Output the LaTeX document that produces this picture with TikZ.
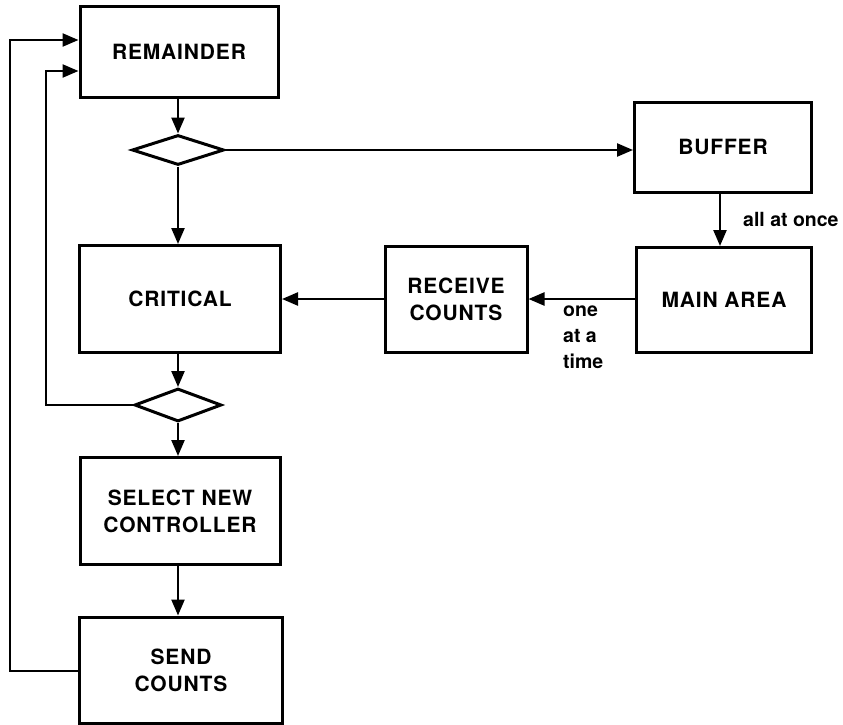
\documentclass[tikz,border=0pt]{standalone}
\usepackage{fontspec}
\setmainfont{TeX Gyre Heros}
\newfontfamily\lblfont[LetterSpace=4]{TeX Gyre Heros}
\usetikzlibrary{arrows.meta,shapes.geometric}
\begin{document}
\begin{tikzpicture}[x=1pt,y=-1pt,
  box/.style={draw,line width=3pt,rectangle,inner sep=0pt,align=center,
    font=\lblfont\bfseries\fontsize{21}{27}\selectfont},
  dia/.style={draw,line width=3pt,diamond,inner sep=0pt},
  conn/.style={line width=2.4pt,-{Triangle[length=16pt,width=13pt]}},
  lbl/.style={font=\bfseries\fontsize{19.5}{26}\selectfont,inner sep=0pt,align=left}]
\useasboundingbox (0,0) rectangle (843,725);

\node[box,minimum width=198pt,minimum height=90pt] (rem) at (179,52) {REMAINDER};
\node[dia,minimum width=92pt,minimum height=30pt] (d1) at (178,150) {};
\node[box,minimum width=177pt,minimum height=90pt] (buf) at (723,147) {BUFFER};
\node[box,minimum width=201pt,minimum height=107pt] (crit) at (180,299) {CRITICAL};
\node[box,minimum width=142pt,minimum height=106pt] (recv) at (456,299) {RECEIVE\\COUNTS};
\node[box,minimum width=175pt,minimum height=105pt] (main) at (724,300) {MAIN AREA};
\node[dia,minimum width=87pt,minimum height=33pt] (d2) at (178,405) {};
\node[box,minimum width=200pt,minimum height=107pt] (sel) at (180,511) {SELECT NEW\\CONTROLLER};
\node[box,minimum width=203pt,minimum height=106pt] (send) at (181,670) {SEND\\COUNTS};

\coordinate (r1) at (rem.west |- 0,40);
\coordinate (r2) at (rem.west |- 0,71);
\coordinate (o1) at (10,671);
\coordinate (o2) at (10,40);
\coordinate (i1) at (46,405);
\coordinate (i2) at (46,71);

\draw[conn] (rem.south -| d1.north) -- (d1.north);
\draw[conn] (d1.east) -- (buf.west |- d1.east);
\draw[conn] (d1.south) -- (d1.south |- crit.north);
\draw[conn] (buf.south -| 720,0) -- (main.north -| 720,0)
  node[lbl,pos=0.5,anchor=west,xshift=22pt] (l1) {all at once};
\draw[conn] (main.west |- 0,299) -- (recv.east |- 0,299);
\node[lbl,anchor=north west] (l2) at (563,306) {one\\at a\\time};
\draw[conn] (recv.west |- 0,299) -- (crit.east |- 0,299);
\draw[conn] (d2.north |- crit.south) -- (d2.north);
\draw[conn] (d2.south) -- (d2.south |- sel.north);
\draw[conn] (sel.south -| 178,0) -- (send.north -| 178,0);
\draw[conn] (d2.west) -- (i1) -- (i2) -- (r2);
\draw[conn] (send.west |- o1) -- (o1) -- (o2) -- (r1);
\end{tikzpicture}
\end{document}
